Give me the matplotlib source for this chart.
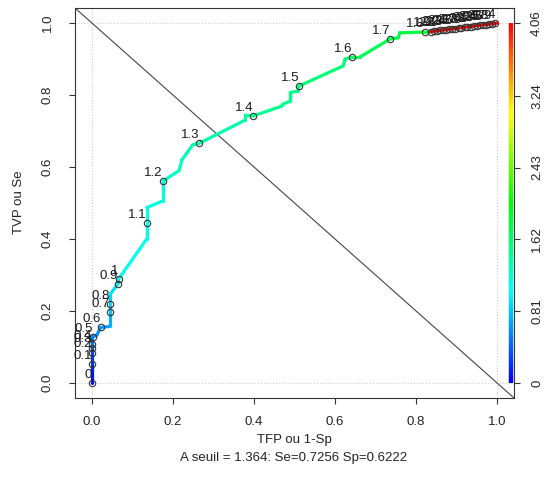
import numpy as np
import matplotlib.pyplot as plt
from matplotlib.collections import LineCollection
from matplotlib.colors import ListedColormap, Normalize, hsv_to_rgb

plt.rcParams['font.family'] = ['Liberation Sans', 'DejaVu Sans']

# ROC curve vertices (false positive rate, true positive rate, cutoff)
fpr = [0.000, 0.000, 0.000, 0.000, 0.000, 0.000, 0.000, 0.002, 0.012, 0.021,
       0.044, 0.044, 0.044, 0.044, 0.064, 0.066, 0.135, 0.135, 0.135, 0.175,
       0.175, 0.215, 0.222, 0.249, 0.265, 0.379, 0.379, 0.398, 0.468, 0.472,
       0.489, 0.489, 0.509, 0.511, 0.620, 0.625, 0.642, 0.662, 0.736, 0.756,
       0.760, 0.817, 0.822, 0.835, 1.000]
tpr = [0.000, 0.026, 0.053, 0.084, 0.098, 0.108, 0.117, 0.128, 0.133, 0.154,
       0.157, 0.197, 0.219, 0.245, 0.275, 0.289, 0.400, 0.444, 0.487, 0.506,
       0.561, 0.590, 0.620, 0.662, 0.666, 0.731, 0.744, 0.742, 0.769, 0.775,
       0.783, 0.807, 0.811, 0.825, 0.881, 0.900, 0.906, 0.906, 0.956, 0.959,
       0.973, 0.975, 0.974, 0.976, 1.000]
cut = [0.00, 0.05, 0.10, 0.20, 0.30, 0.40, 0.45, 0.50, 0.55, 0.60,
       0.65, 0.70, 0.80, 0.85, 0.90, 1.00, 1.08, 1.10, 1.12, 1.15,
       1.20, 1.24, 1.26, 1.29, 1.30, 1.37, 1.38, 1.40, 1.45, 1.46,
       1.47, 1.48, 1.49, 1.50, 1.57, 1.58, 1.60, 1.62, 1.70, 1.72,
       1.74, 1.79, 1.80, 1.88, 4.06]

# points where the cutoff values are printed
lab_cut = [0, 0.1, 0.2, 0.3, 0.4, 0.5, 0.6, 0.7, 0.8, 0.9, 1, 1.1, 1.2, 1.3,
           1.4, 1.5, 1.6, 1.7, 1.8, 1.9, 2, 2.1, 2.2, 2.3, 2.4, 2.5, 2.6, 2.7,
           2.8, 2.9, 3, 3.1, 3.2, 3.3, 3.4, 3.5, 3.6, 3.7, 3.8, 3.9, 4]
lab_fpr = [0.000, 0.000, 0.000, 0.000, 0.000, 0.002, 0.021, 0.044, 0.044, 0.064,
           0.066, 0.135, 0.175, 0.265, 0.398, 0.511, 0.642, 0.736, 0.822, 0.837,
           0.844, 0.852, 0.859, 0.867, 0.874, 0.882, 0.890, 0.897, 0.905, 0.912,
           0.920, 0.927, 0.935, 0.943, 0.950, 0.958, 0.965, 0.973, 0.980, 0.988,
           0.995]
lab_tpr = [0.000, 0.053, 0.084, 0.098, 0.108, 0.128, 0.154, 0.197, 0.219, 0.275,
           0.289, 0.444, 0.561, 0.666, 0.742, 0.825, 0.906, 0.956, 0.974, 0.976,
           0.977, 0.978, 0.980, 0.981, 0.982, 0.983, 0.984, 0.985, 0.986, 0.987,
           0.988, 0.989, 0.990, 0.991, 0.993, 0.994, 0.995, 0.996, 0.997, 0.998,
           0.999]

cut_max = 4.06
bar_ticks = [0, 0.81, 1.62, 2.43, 3.24, 4.06]
bar_labels = ["0", "0.81", "1.62", "2.43", "3.24", "4.06"]
ticks = [0.0, 0.2, 0.4, 0.6, 0.8, 1.0]
tick_labels = ["0.0", "0.2", "0.4", "0.6", "0.8", "1.0"]

# rainbow from blue (low cutoff) to red (high cutoff)
hues = np.linspace(2 / 3, 0, 256)
rainbow = ListedColormap(hsv_to_rgb(np.column_stack([hues, np.ones(256), np.ones(256)])))
norm = Normalize(0, cut_max)

fs = 9.5
fig = plt.figure(figsize=(5.44, 4.83), dpi=100)
W, H = 544, 483
ax = fig.add_axes([75 / W, 1 - 398 / H, 439 / W, 390 / H])
ax.set_xlim(-0.042, 1.042)
ax.set_ylim(-0.042, 1.042)

# faint guide lines
for v in [0, 1]:
    ax.axhline(v, color="#cccccc", lw=0.8, ls=":", zorder=0)
    ax.axvline(v, color="#cccccc", lw=0.8, ls=":", zorder=0)

ax.axline((0, 1), slope=-1, color="#444444", lw=0.8, zorder=1)

pts = np.column_stack([fpr, tpr])
segs = np.stack([pts[:-1], pts[1:]], axis=1)
lc = LineCollection(segs, colors=rainbow(norm(np.array(cut[1:]))), linewidths=2.3,
                    capstyle="round", joinstyle="round", zorder=2)
ax.add_collection(lc)

ax.plot(lab_fpr, lab_tpr, "o", ms=4.6, mfc="none", mec="#333333", mew=0.8, zorder=3)
for c, x, y in zip(lab_cut, lab_fpr, lab_tpr):
    ax.annotate("%g" % c, (x, y), xytext=(0, 3.8), textcoords="offset points",
                ha="right", va="baseline", fontsize=fs, color="#1a1a1a", zorder=4)

# colour key on the right side
yk = np.linspace(0, 1, 200)
kseg = np.stack([np.column_stack([np.full(199, 1.035), yk[:-1]]),
                 np.column_stack([np.full(199, 1.035), yk[1:]])], axis=1)
ax.add_collection(LineCollection(kseg, colors=rainbow(yk[:-1]), linewidths=3.2, zorder=2))

ax.set_xticks(ticks)
ax.set_xticklabels(tick_labels)
ax.set_yticks(ticks)
ax.set_yticklabels(tick_labels, rotation=90, va="center")
ax.tick_params(direction="out", length=4.3, width=0.8, colors="#333333",
               labelcolor="#222222", labelsize=fs)
ax.tick_params(axis="x", pad=9)
ax.tick_params(axis="y", pad=11)
for s in ax.spines.values():
    s.set_color("#333333")
    s.set_linewidth(0.8)

ax2 = ax.twinx()
ax2.set_ylim(ax.get_ylim())
ax2.set_yticks(np.array(bar_ticks) / cut_max)
ax2.set_yticklabels(bar_labels, rotation=90, va="center")
ax2.tick_params(direction="out", length=4.3, width=0.8, colors="#333333",
                labelcolor="#222222", labelsize=fs, pad=8)
for s in ax2.spines.values():
    s.set_visible(False)

fig.text(19 / W, 1 - 202 / H, "TVP ou Se", rotation=90, ha="center", va="center",
         fontsize=fs, color="#222222")
fig.text(294 / W, 1 - 440 / H, "TFP ou 1-Sp", ha="center", va="center",
         fontsize=fs, color="#222222")
fig.text(294 / W, 1 - 458 / H, "A seuil = 1.364: Se=0.7256 Sp=0.6222", ha="center",
         va="center", fontsize=fs, color="#222222")

fig.savefig("out.png", dpi=100)
